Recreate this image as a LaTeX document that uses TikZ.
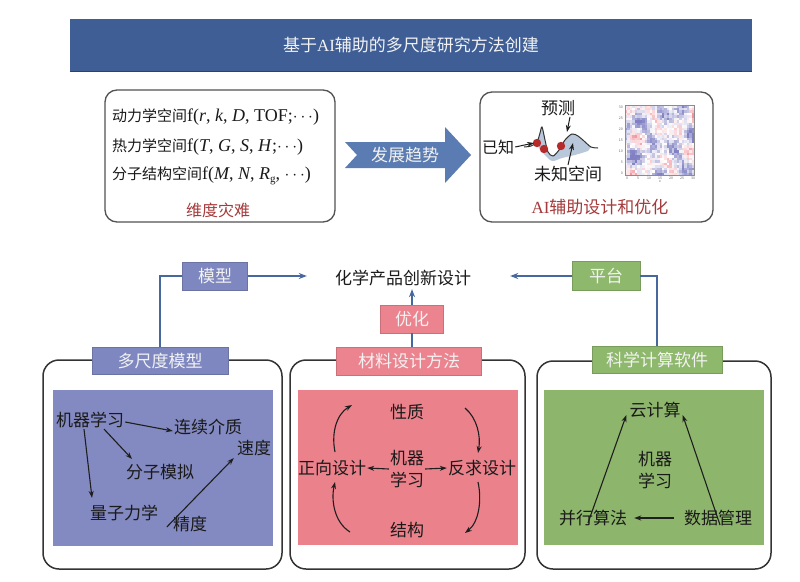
\documentclass[tikz,border=0pt]{standalone}
\usepackage{fontspec}
\setmainfont{Noto Sans CJK SC}
\newfontfamily\lat{Liberation Serif}
\newcommand\mylat[1]{{\lat\fontsize{18}{20}\selectfont #1}}
\usetikzlibrary{arrows.meta}
\definecolor{titlec}{HTML}{3F5E96}
\definecolor{arrowc}{HTML}{5A7CB2}
\definecolor{redtxt}{HTML}{A53A3B}
\definecolor{txtc}{HTML}{1A1A1A}
\definecolor{labtxt}{HTML}{F2F2F2}
\definecolor{connc}{HTML}{46689E}
\definecolor{arrc}{HTML}{1E1E1E}
\definecolor{boxc}{HTML}{333333}
\definecolor{bluelab}{HTML}{7E87C0}
\definecolor{blueinner}{HTML}{8389C1}
\definecolor{pinklab}{HTML}{EC8490}
\definecolor{pinkinner}{HTML}{EA818B}
\definecolor{greenlab}{HTML}{8EB86C}
\definecolor{greeninner}{HTML}{8DB56B}
\definecolor{hmred}{HTML}{E8606E}
\definecolor{hmblue}{HTML}{6060B4}
\definecolor{curvefill}{HTML}{B8C8DA}
\definecolor{dotc}{HTML}{B52A2A}
\begin{document}
\begin{tikzpicture}[x=1pt,y=-1pt,
  every node/.style={inner sep=1pt},
  tx/.style={font=\fontsize{17}{22}\selectfont, text=txtc},
  tl/.style={font=\fontsize{15}{17}\selectfont, text=txtc},
  lab/.style={minimum height=27pt, inner sep=0pt, font=\fontsize{17}{20}\selectfont, text=labtxt},
  conn/.style={draw=connc, line width=1.5pt},
  connarr/.style={conn, -{Stealth[length=8pt,width=6pt]}},
  arr/.style={-{Stealth[length=7pt,width=5pt]}, line width=1.1pt, draw=arrc},
  outerbox/.style={draw=boxc, line width=1.5pt, rounded corners=16pt, fill=white},
  topbox/.style={draw=boxc!85, line width=1.3pt, rounded corners=12pt, fill=white},
]
\useasboundingbox (0,0) rectangle (800,581);
\fill[white] (0,0) rectangle (800,581);

% title bar
\fill[titlec] (70,19) rectangle (752,71);
\draw[titlec!70!black, line width=0.6pt] (70,71) -- (752,71);
\node[font=\fontsize{17}{20}\selectfont, text=labtxt] (title) at (411,45) {基于{\lat AI}辅助的多尺度研究方法创建};

% top-left box
\draw[topbox] (105,90) rectangle (335,222);
\node[anchor=west, tl] (k1) at (111,117) {动力学空间\mylat{f(\textit{r}, \textit{k}, \textit{D}, TOF;$\cdots$)}};
\node[anchor=west, tl] (k2) at (111,147) {热力学空间\mylat{f(\textit{T}, \textit{G}, \textit{S}, \textit{H};$\cdots$)}};
\node[anchor=west, tl] (k3) at (111,176) {分子结构空间\mylat{f(\textit{M}, \textit{N}, \textit{R}\raisebox{-3pt}{\fontsize{11}{11}\selectfont g}, $\cdots$)}};
\node[font=\fontsize{16}{18}\selectfont, text=redtxt] (curse) at (218,210) {维度灾难};

% trend arrow
\fill[arrowc] (345,142) -- (445,142) -- (445,127) -- (471,155) -- (445,183) -- (445,168) -- (345,168) -- (357,155) -- cycle;
\node[font=\fontsize{17}{20}\selectfont, text=labtxt] (trend) at (405,155) {发展趋势};

% top-right box
\draw[topbox] (480,92) rectangle (713,222);
% curve graphic
\fill[curvefill] plot[smooth] coordinates {(537,143) (540,133) (542,127) (545,140) (548,152) (553,156) (559,150) (565,140) (572,134) (578,136) (584,141) (591,147)}
  -- plot[smooth] coordinates {(588,151) (575,155) (562,158) (552,161) (544,154) (539,148)} -- cycle;
\draw[line width=1pt, black!80] plot[smooth] coordinates {(524,147) (531,146) (537,142) (540,133) (542,127) (545,140) (548,152) (553,156) (559,150) (565,140) (572,134) (578,136) (584,141) (591,147) (598,148)};
\fill[dotc] (537,143) circle (4.2pt) coordinate (d1);
\fill[dotc] (544,149) circle (4.2pt) coordinate (d2);
\fill[dotc] (561,146) circle (4.2pt) coordinate (d3);
\coordinate (peak) at (567,132);
\coordinate (under) at (573,143);
\node[font=\fontsize{17}{20}\selectfont, text=txtc] (pred) at (558,108) {预测};
\node[font=\fontsize{16}{18}\selectfont, text=txtc] (known) at (498,147) {已知};
\node[font=\fontsize{17}{20}\selectfont, text=txtc] (unk) at (568,174) {未知空间};
\draw[arr, line width=1pt] (known.east) -- ([xshift=-3pt]d1);
\draw[arr, line width=1pt] ([xshift=12pt]pred.south) -- (peak);
\draw[arr, line width=1pt] (unk.north) -- (under);
% heatmap
\pgfmathsetseed{23}
\foreach \i in {0,...,27}{
  \foreach \j in {0,...,27}{
    \pgfmathsetmacro\v{sin(\i*21+30)*cos(\j*25+60)+0.7*sin(\i*13+\j*27)+0.6*cos(\i*40-\j*15)+1.5*(rnd-0.5)-0.45}
    \pgfmathtruncatemacro\p{min(80,abs(\v)*38)}
    \ifdim\v pt>0pt \def\cc{hmred}\else\def\cc{hmblue}\fi
    \fill[\cc!\p!white] (625+\i*2.464,105+\j*2.5) rectangle ++(2.5,2.55);
  }
}
\draw[black!45, line width=0.5pt] (625,105) rectangle (694,175);
\foreach \k [count=\n from 0] in {0,5,10,15,20,25,30}{
  \node[font=\fontsize{3.5}{4}\selectfont, text=black!60, inner sep=0pt] (hx\n) at (627+\k*2.2,178) {\k};
  \node[font=\fontsize{3.5}{4}\selectfont, text=black!60, inner sep=0pt, anchor=east] (hy\n) at (623,173-\k*2.2) {\k};
}
\node[font=\fontsize{3.5}{4}\selectfont, text=black!60, inner sep=0pt] (hxl) at (660,182) {x};
\node[font=\fontsize{17}{20}\selectfont, text=redtxt] (aiopt) at (600,207) {{\lat AI}辅助设计和优化};

% central target
\node[tx, inner xsep=28pt, inner ysep=3pt] (prod) at (403,278) {化学产品创新设计};

% bottom outer boxes
\draw[outerbox] (43,360) rectangle (282,569);
\draw[outerbox] (290,360) rectangle (525,569);
\draw[outerbox] (537,361) rectangle (771,569);
\fill[blueinner] (53,390) rectangle (273,546);
\fill[pinkinner] (298,390) rectangle (518,545);
\fill[greeninner] (544,390) rectangle (764,545);

% labels
\node[lab, fill=bluelab, draw=bluelab!85!black, line width=0.4pt, minimum width=136pt] (ms) at (160,361) {多尺度模型};
\node[lab, fill=pinklab, draw=pinklab!85!black, line width=0.4pt, minimum width=145pt, minimum height=28pt] (mat) at (409,361) {材料设计方法};
\node[lab, fill=greenlab, draw=greenlab!85!black, line width=0.4pt, minimum width=130pt] (sw) at (657,360) {科学计算软件};
\node[lab, fill=bluelab, draw=bluelab!85!black, line width=0.4pt, minimum width=65pt, minimum height=28pt] (mx) at (215,276) {模型};
\node[lab, fill=greenlab, draw=greenlab!85!black, line width=0.4pt, minimum width=68pt, minimum height=29pt] (pt) at (606,276) {平台};
\node[lab, fill=pinklab, draw=pinklab!85!black, line width=0.4pt, minimum width=63pt, minimum height=28pt] (yh) at (412,319) {优化};

% top connectors
\draw[conn] (ms.north) |- (mx.west);
\draw[connarr] (mx.east) -- (mx.east -| prod.west);
\draw[conn] (sw.north) |- (pt.east);
\draw[connarr, shorten >=11pt] (pt.west) -- (pt.west -| prod.east);
\draw[connarr] (yh.north) -- (yh.north |- prod.south);
\draw[conn] (yh.south) -- (yh.south |- mat.north);

% left section
\node[tx] (ml1) at (90,420) {机器学习};
\node[tx] (cont) at (208,427) {连续介质};
\node[tx] (spd) at (254,448) {速度};
\node[tx] (mol) at (160,472) {分子模拟};
\node[tx] (qm) at (124,513) {量子力学};
\node[tx] (acc) at (190,524) {精度};
\draw[arr] ([yshift=-2pt]ml1.east) -- ([yshift=-4pt]cont.west);
\draw[arr] ([xshift=14pt]ml1.south) -- ([xshift=-28pt,yshift=4pt]mol.north);
\draw[arr] ([xshift=-6pt]ml1.south) -- ([xshift=-32pt,yshift=6pt]qm.north);
\draw[arr] ([xshift=-5pt,yshift=-3pt]acc.west) -- ([xshift=-2pt,yshift=-1pt]spd.south west);

% middle section
\node[tx] (prop) at (407,412) {性质};
\node[tx, align=center] (ml2) at (407,469) {机器\\学习};
\node[tx] (fwd) at (332,468) {正向设计};
\node[tx] (inv) at (482,468) {反求设计};
\node[tx] (stru) at (407,530) {结构};
\draw[arr] (ml2.west) -- (fwd.east);
\draw[arr] (ml2.east) -- (inv.west);
\coordinate (lu1) at (335,452);
\coordinate (lu2) at (352,405);
\coordinate (ll1) at (350,532);
\coordinate (ll2) at (335,482);
\coordinate (ru1) at (465,408);
\coordinate (ru2) at (478,453);
\coordinate (rl1) at (478,482);
\coordinate (rl2) at (465,533);
\draw[arr] (lu1) .. controls (331,432) and (337,414) .. (lu2);
\draw[arr] (ll1) .. controls (334,522) and (331,500) .. (ll2);
\draw[arr] (ru1) .. controls (477,418) and (481,436) .. (ru2);
\draw[arr] (rl1) .. controls (482,500) and (479,522) .. (rl2);

% right section
\node[tx] (cloud) at (655,410) {云计算};
\node[tx, align=center] (ml3) at (655,470) {机器\\学习};
\node[tx] (par) at (593,518) {并行算法};
\node[tx] (dat) at (718,518) {数据管理};
\draw[arr] ([xshift=-5pt,yshift=-14pt]par.north) -- ([xshift=-2pt,yshift=4pt]cloud.south west);
\draw[arr] ([xshift=2pt,yshift=-16pt]dat.north) -- ([xshift=1pt,yshift=4pt]cloud.south east);
\draw[arr, shorten <=9pt, shorten >=6pt] (dat.west) -- (par.east);
\end{tikzpicture}
\end{document}
